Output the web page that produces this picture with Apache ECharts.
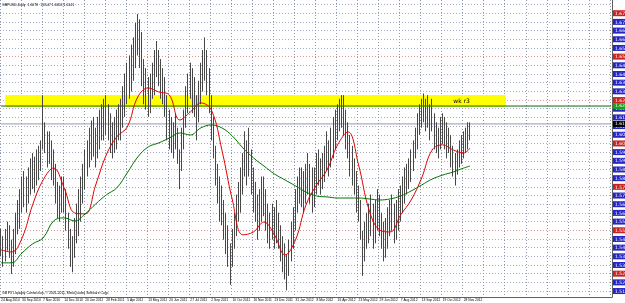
<!DOCTYPE html>
<html><head><meta charset="utf-8">
<script src="https://cdn.jsdelivr.net/npm/echarts@6.0.0/dist/echarts.min.js"></script>
<style>html,body{margin:0;padding:0;background:#fff}#c{width:625px;height:303px}</style>
</head><body><div id="c"></div>
<script>
// ---- data ----
const tickLabels = ['24 Aug 2010','30 Sep 2010','7 Nov 2010','14 Dec 2010','20 Jan 2011','28 Feb 2011','5 Apr 2011','13 May 2011','20 Jun 2011','27 Jul 2011','2 Sep 2011','10 Oct 2011','16 Nov 2011','23 Dec 2011','31 Jan 2012','8 Mar 2012','16 Apr 2012','23 May 2012','29 Jun 2012','7 Aug 2012','13 Sep 2012','19 Oct 2012','28 Nov 2012'];

const lows = [
1.541,1.535,1.538,1.544,1.540,1.531,1.535,1.542,1.553,1.556,
1.565,1.568,1.565,1.570,1.575,1.578,1.576,1.580,1.583,1.588,
1.600,1.598,1.590,1.592,1.583,1.580,1.570,1.562,1.560,1.565,
1.565,1.555,1.545,1.535,1.532,1.540,1.548,1.552,1.560,1.570,
1.578,1.585,1.590,1.594,1.596,1.590,1.595,1.600,1.605,1.605,
1.608,1.605,1.598,1.595,1.598,1.600,1.605,1.605,1.612,1.618,
1.625,1.628,1.632,1.638,1.645,1.652,1.645,1.635,1.625,1.622,
1.618,1.620,1.628,1.630,1.640,1.635,1.628,1.625,1.618,1.605,
1.600,1.598,1.595,1.600,1.592,1.578,1.588,1.600,1.612,1.620,
1.628,1.620,1.618,1.605,1.615,1.625,1.632,1.638,1.630,1.620,
1.605,1.595,1.580,1.570,1.560,1.558,1.550,1.542,1.535,1.525,
1.535,1.545,1.552,1.560,1.565,1.575,1.585,1.580,1.585,1.575,
1.565,1.560,1.550,1.555,1.560,1.563,1.555,1.548,1.545,1.550,
1.545,1.548,1.545,1.538,1.532,1.528,1.522,1.530,1.538,1.545,
1.555,1.565,1.570,1.568,1.565,1.570,1.575,1.570,1.565,1.568,
1.575,1.580,1.575,1.578,1.582,1.588,1.585,1.590,1.595,1.600,
1.605,1.610,1.612,1.608,1.600,1.595,1.585,1.580,1.575,1.565,
1.560,1.550,1.530,1.538,1.545,1.548,1.552,1.545,1.548,1.555,
1.552,1.545,1.538,1.540,1.545,1.552,1.555,1.548,1.550,1.555,
1.560,1.565,1.570,1.575,1.578,1.582,1.588,1.595,1.600,1.608,
1.612,1.615,1.610,1.612,1.605,1.610,1.600,1.598,1.595,1.600,
1.603,1.600,1.595,1.598,1.590,1.585,1.580,1.586,1.590,1.592,
1.595,1.598,1.600,1.605];

const highs = [
1.556,1.552,1.556,1.560,1.558,1.550,1.556,1.565,1.572,1.578,
1.585,1.588,1.585,1.590,1.595,1.598,1.596,1.600,1.602,1.605,
1.630,1.615,1.610,1.610,1.605,1.600,1.592,1.582,1.580,1.585,
1.585,1.578,1.565,1.556,1.552,1.562,1.570,1.578,1.585,1.592,
1.600,1.605,1.612,1.616,1.618,1.612,1.618,1.622,1.625,1.628,
1.630,1.625,1.620,1.615,1.618,1.622,1.625,1.628,1.635,1.642,
1.648,1.652,1.658,1.662,1.670,1.675,1.672,1.665,1.650,1.645,
1.640,1.642,1.648,1.655,1.660,1.655,1.650,1.645,1.640,1.630,
1.622,1.618,1.615,1.620,1.612,1.600,1.612,1.622,1.635,1.642,
1.648,1.645,1.640,1.630,1.638,1.648,1.655,1.662,1.655,1.645,
1.630,1.618,1.602,1.592,1.585,1.580,1.572,1.565,1.558,1.548,
1.556,1.565,1.575,1.582,1.590,1.598,1.610,1.605,1.612,1.600,
1.590,1.582,1.575,1.578,1.585,1.585,1.578,1.570,1.565,1.570,
1.568,1.572,1.565,1.558,1.552,1.548,1.542,1.550,1.560,1.568,
1.578,1.585,1.590,1.590,1.588,1.592,1.598,1.592,1.590,1.590,
1.598,1.600,1.595,1.598,1.602,1.610,1.605,1.612,1.618,1.622,
1.625,1.628,1.630,1.630,1.622,1.615,1.608,1.602,1.595,1.588,
1.580,1.572,1.555,1.560,1.565,1.570,1.575,1.570,1.572,1.578,
1.575,1.565,1.560,1.562,1.568,1.572,1.575,1.570,1.572,1.578,
1.580,1.585,1.590,1.592,1.595,1.600,1.605,1.612,1.620,1.625,
1.628,1.631,1.628,1.630,1.625,1.628,1.620,1.615,1.612,1.618,
1.620,1.618,1.615,1.612,1.608,1.602,1.598,1.600,1.605,1.608,
1.610,1.612,1.615,1.615];

// moving averages, sampled at these bar numbers
const maBars = [0,5,10,15,20,25,30,35,40,45,50,55,60,65,70,75,80,85,90,95,100,105,110,115,120,125,130,135,140,145,150,155,160,165,170,175,180,185,190,195,200,205,210,215,220,223];
const redMA = [1.5444,1.5432,1.5510,1.5693,1.5831,1.5897,1.5787,1.5648,1.5643,1.5803,1.5969,1.6069,1.6124,1.6290,1.6340,1.6318,1.6301,1.6163,1.6207,1.6257,1.6218,1.5997,1.5720,1.5527,1.5543,1.5598,1.5527,1.5416,1.5499,1.5693,1.5803,1.5886,1.6025,1.6097,1.5914,1.5665,1.5554,1.5543,1.5637,1.5720,1.5842,1.5997,1.6025,1.5997,1.5980,1.6008];
const greenMA = [1.5372,1.5372,1.5427,1.5477,1.5510,1.5604,1.5621,1.5604,1.5643,1.5698,1.5748,1.5787,1.5870,1.5958,1.6014,1.6036,1.6063,1.6091,1.6080,1.6119,1.6135,1.6119,1.6074,1.6008,1.5953,1.5908,1.5864,1.5831,1.5798,1.5764,1.5742,1.5737,1.5731,1.5731,1.5731,1.5726,1.5720,1.5726,1.5742,1.5770,1.5803,1.5836,1.5858,1.5875,1.5897,1.5908];

// price levels: horizontal lines every 0.005, the 0.025 ones in red
const levelStep = 0.005, levelMin = 1.515, levelMax = 1.685, redEvery = 0.025, topBoxedLevel = 1.675;
const wkR3Level = 1.6240;
const bandHigh = 1.6301, bandLow = 1.6235, bandFromBar = 2, bandToBar = 240;
const bidPrice = 1.6141;
const headerText = 'GBPUSD,Daily  1.6078  1.6147 1.6053 1.6141';
const copyrightText = 'GB FX Liquidity Connection, \u00A9 2001-2011, MetaQuotes Software Corp.';
const priceMin = 1.5183, priceMax = 1.6827;
const totalSlots = 291, labelEvery = 10;

// ---- build chart ----
const W = 625, H = 303, plotRight = 13, plotBottom = 6;
const pxPerUnit = (H - plotBottom) / (priceMax - priceMin);
const levelGridTop = -(levelMax - priceMax) * pxPerUnit;
const levelGridBottom = H - plotBottom - (priceMin - levelMin) * pxPerUnit;
const categories = Array.from({length: totalSlots}, (_, i) => String(i));
const candles = lows.map((l, i) => [l, highs[i], l, highs[i]]);
const font = 'DejaVu Sans';
const smallFont = 'Liberation Sans';
const boxFont = 4.5;
const barColor = '#474747';

function isRed(v) { return Math.abs(v / redEvery - Math.round(v / redEvery)) < 1e-6; }

const levelColors = [];
for (let k = 0; k * levelStep <= (levelMax - levelMin) + 1e-9; k++) {
  levelColors.push(isRed(levelMin + k * levelStep) ? '#dc9a9a' : '#a4acd0');
}

function hLine(v, color, boxColor) {
  return {
    type: 'line', data: [[0, v], [totalSlots - 1, v]], z: 2, silent: true,
    symbol: 'none', lineStyle: {color: color, width: 1},
    endLabel: {show: true, formatter: v.toFixed(4), distance: 2, color: '#fff',
      backgroundColor: boxColor, fontSize: boxFont, fontFamily: font, padding: [1, 4, 0, 2]}
  };
}

const chart = echarts.init(document.getElementById('c'));
chart.setOption({
  animation: false,
  textStyle: {fontFamily: font},
  grid: [
    {left: 0, right: plotRight, top: 0, bottom: plotBottom, containLabel: false, outerBoundsMode: 'none'},
    {left: 0, right: plotRight, top: levelGridTop, height: levelGridBottom - levelGridTop, containLabel: false, outerBoundsMode: 'none'}
  ],
  xAxis: [{
    type: 'category', data: categories, boundaryGap: true,
    axisLine: {show: true, lineStyle: {color: '#606060', width: 1}},
    axisTick: {show: false},
    axisLabel: {
      interval: (i) => i % labelEvery === 0 && i / labelEvery < tickLabels.length,
      formatter: (v) => tickLabels[Number(v) / labelEvery] || '',
      fontSize: 3.3, color: '#000', align: 'left', margin: 1.5, fontFamily: smallFont,
      showMinLabel: true, hideOverlap: false
    },
    splitLine: {show: true, interval: (i) => i % labelEvery === 0,
      lineStyle: {color: '#8c96aa', type: [1, 2], width: 1}}
  }, {
    type: 'value', gridIndex: 1, show: false, min: 0, max: 1
  }],
  yAxis: [{
    type: 'value', position: 'right', min: priceMin, max: priceMax,
    axisLine: {show: true, lineStyle: {color: '#606060', width: 1}},
    axisTick: {show: false}, axisLabel: {show: false}, splitLine: {show: false}
  }, {
    type: 'value', gridIndex: 1, position: 'right', min: levelMin, max: levelMax, interval: levelStep,
    axisLine: {show: false}, axisTick: {show: false},
    splitLine: {show: true, lineStyle: {color: levelColors, type: [1, 2], width: 1}},
    axisLabel: {
      show: true, margin: 1, showMinLabel: true, showMaxLabel: true,
      formatter: (v) => v > topBoxedLevel + 1e-6 ? '' : (isRed(v) ? '{r|' : '{b|') + v.toFixed(4) + '}',
      rich: {
        b: {backgroundColor: '#2626c4', color: '#fff', fontSize: boxFont, fontFamily: font, padding: [1, 4, 0, 2]},
        r: {backgroundColor: '#c82424', color: '#fff', fontSize: boxFont, fontFamily: font, padding: [1, 4, 0, 2]}
      }
    }
  }],
  graphic: [
    {type: 'text', left: 2, top: 3, z: 100, style: {text: headerText, fontSize: 3.5, fill: '#000', fontFamily: smallFont}},
    {type: 'text', left: 2, top: 291.5, z: 100, style: {text: copyrightText, fontSize: 3.4, fill: '#000', fontFamily: smallFont}}
  ],
  series: [
    {
      type: 'line', data: [], z: 1, silent: true,
      markArea: {
        silent: true,
        itemStyle: {color: '#ffff00'},
        label: {show: true, position: 'insideRight', distance: 36, formatter: 'wk r3', color: '#000', fontSize: 6, fontFamily: font},
        data: [[{xAxis: bandFromBar, yAxis: bandHigh}, {xAxis: bandToBar, yAxis: bandLow}]]
      }
    },
    hLine(bidPrice, '#9a9a9a', '#000000'),
    hLine(wkR3Level, '#0a6a0a', '#18a018'),
    {
      type: 'candlestick', data: candles, z: 3, barWidth: 1,
      itemStyle: {color: barColor, color0: barColor, borderColor: barColor, borderColor0: barColor, borderWidth: 1}
    },
    {
      type: 'line', data: maBars.map((b, k) => [b, redMA[k]]), z: 4, smooth: 0.4,
      symbol: 'none', lineStyle: {color: '#e00000', width: 1}
    },
    {
      type: 'line', data: maBars.map((b, k) => [b, greenMA[k]]), z: 4, smooth: 0.4,
      symbol: 'none', lineStyle: {color: '#007000', width: 1}
    }
  ]
});
</script>
</body></html>
